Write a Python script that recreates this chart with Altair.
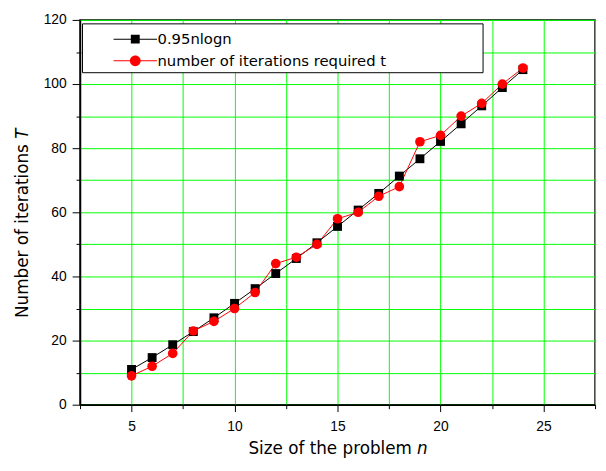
import altair as alt
import pandas as pd

# ---- data ----
n_values = list(range(5, 25))
nlogn_values = [11.0, 14.7, 18.7, 22.8, 27.1, 31.6, 36.2, 40.9, 45.6, 50.5,
                55.6, 60.7, 65.9, 71.3, 76.7, 82.1, 87.6, 93.2, 98.9, 104.5]
required_values = [9, 12, 16, 23, 26, 30, 35, 44, 46, 50,
                   58, 60, 65, 68, 82, 84, 90, 94, 100, 105]
series_names = ["0.95nlogn", "number of iterations required t"]
series_colors = ["black", "red"]
x_ticks = [2.5, 5, 7.5, 10, 12.5, 15, 17.5, 20, 22.5, 25, 27.5]
y_ticks = list(range(0, 121, 10))

rows = []
for n, v in zip(n_values, nlogn_values):
    rows.append({"n": n, "T": v, "series": series_names[0]})
for n, v in zip(n_values, required_values):
    rows.append({"n": n, "T": v, "series": series_names[1]})
df = pd.DataFrame(rows)

# legend symbols: line segment + marker (custom SVG paths, unit coords)
sq_path = "M-4.4,-0.1H4.4V0.1H-4.4Z M-0.9,-0.9H0.9V0.9H-0.9Z"
circ_path = "M-4.4,-0.1H4.4V0.1H-4.4Z M1.1,0A1.1,1.1 0 1,1 -1.1,0A1.1,1.1 0 1,1 1.1,0Z"

FONT = "Liberation Sans"
TFONT = "DejaVu Sans"

x_enc = alt.X(
    "n:Q",
    scale=alt.Scale(domain=[2.5, 27.5], nice=False, zero=False),
    axis=alt.Axis(
        values=x_ticks,
        labelExpr="datum.value % 5 == 0 ? datum.label : ''",
        tickSize={"condition": {"test": "datum.value % 5 == 0", "value": 7}, "value": 4},
        labelPadding=8,
        title=None,
    ),
)
y_enc = alt.Y(
    "T:Q",
    scale=alt.Scale(domain=[0, 120], nice=False),
    axis=alt.Axis(
        values=y_ticks,
        labelExpr="datum.value % 20 == 0 ? datum.label : ''",
        tickSize={"condition": {"test": "datum.value % 20 == 0", "value": 8}, "value": 4},
        labelPadding=6,
        title=None,
    ),
)

base = alt.Chart(df)

lines = base.mark_line(strokeWidth=1).encode(
    x=x_enc, y=y_enc,
    color=alt.Color("series:N", scale=alt.Scale(domain=series_names, range=series_colors), legend=None),
)

points = base.mark_point(filled=True, opacity=1).encode(
    x=x_enc, y=y_enc,
    color=alt.Color("series:N", scale=alt.Scale(domain=series_names, range=series_colors), legend=None),
    shape=alt.Shape("series:N", scale=alt.Scale(domain=series_names, range=["square", "circle"]), legend=None),
    size=alt.Size("series:N", scale=alt.Scale(domain=series_names, range=[81, 95]), legend=None),
)

leg_props = dict(
    title=None, orient="none", legendX=48.5, legendY=12,
    labelFont=TFONT, labelFontSize=15, labelColor="black", labelLimit=400,
    labelOffset=15, rowPadding=6, symbolSize=100, symbolOpacity=1,
    symbolStrokeWidth=0, padding=0,
)
legend_layer = base.mark_point(filled=True, opacity=0, size=100).encode(
    x=x_enc, y=y_enc,
    color=alt.Color("series:N", scale=alt.Scale(domain=series_names, range=series_colors),
                    legend=alt.Legend(**leg_props)),
    shape=alt.Shape("series:N", scale=alt.Scale(domain=series_names, range=[sq_path, circ_path]),
                    legend=alt.Legend(**leg_props)),
)

one = alt.Data(values=[{}])
legend_box = alt.Chart(one).mark_rect(fill="white", stroke="black", strokeWidth=1).encode(
    x=alt.value(2.5), x2=alt.value(408.5), y=alt.value(4), y2=alt.value(53.5)
)

x_title = alt.Chart(one).mark_text(font=TFONT, fontSize=17, align="center", baseline="alphabetic", color="black").encode(
    x=alt.value(253.5), y=alt.value(440), text=alt.value("Size of the problem")
)
x_title_n = alt.Chart(one).mark_text(font=TFONT, fontSize=17, fontStyle="italic", align="left", baseline="alphabetic", color="black").encode(
    x=alt.value(341.5), y=alt.value(440), text=alt.value("n")
)
y_title = alt.Chart(one).mark_text(font=TFONT, fontSize=17, angle=270, align="center", baseline="alphabetic", color="black").encode(
    x=alt.value(-52.5), y=alt.value(214), text=alt.value("Number of iterations")
)
y_title_t = alt.Chart(one).mark_text(font=TFONT, fontSize=17, fontStyle="italic", angle=270, align="left", baseline="alphabetic", color="black").encode(
    x=alt.value(-52.5), y=alt.value(120.5), text=alt.value("T")
)

chart = alt.layer(
    legend_box, lines, points, legend_layer, x_title, x_title_n, y_title, y_title_t
).resolve_scale(
    color="independent", shape="independent"
).properties(
    width=522, height=390,
    autosize=alt.AutoSizeParams(type="none"),
    padding={"left": 73, "top": 9, "right": 3, "bottom": 56},
).configure_view(
    stroke="black", strokeWidth=1.5
).configure_axis(
    grid=True, gridColor="#00ff00", gridWidth=1, gridOpacity=1,
    domainColor="black", domainWidth=1.5,
    tickColor="black", tickWidth=1,
    labelFont=FONT, labelFontSize=14, labelColor="black",
)

chart.save("out.html", embed_options={"renderer": "svg", "actions": False})
